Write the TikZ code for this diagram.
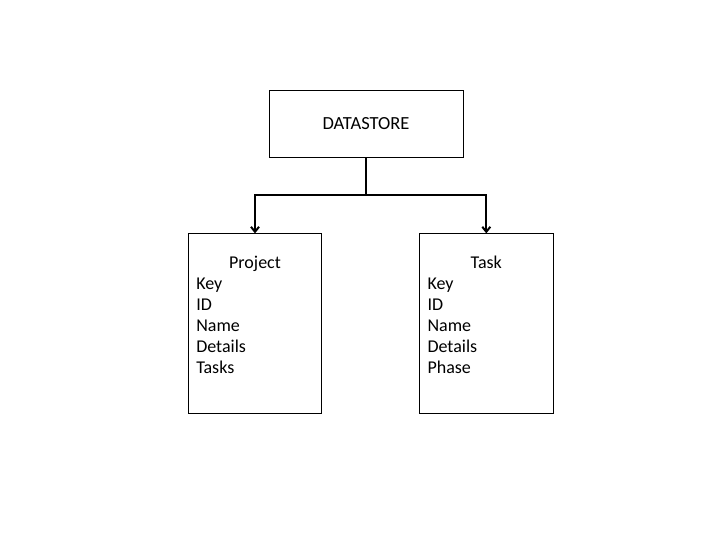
\documentclass[tikz,border=0pt]{standalone}
\usepackage{fontspec}
\setmainfont{Carlito}
\usetikzlibrary{arrows.meta,positioning,shapes.multipart}

\tikzset{
    entity/.style={
        rectangle split,
        rectangle split parts=2,
        rectangle split draw splits=false,
        draw,
        line width=0.8pt,
        inner xsep=8pt,
        inner ysep=0pt,
        text width=117.5pt,
        align=left,
        font=\fontsize{18}{21}\selectfont
    },
    link/.style={line width=2pt, -{Straight Barb[length=5pt,width=8pt]}}
}

\begin{document}
\begin{tikzpicture}[x=1pt, y=1pt, node distance=76pt]
            \useasboundingbox (0,0) rectangle (720,540);

            \node (1) [
                draw,
                line width=0.8pt,
                minimum width=194pt,
                minimum height=67pt,
                font=\fontsize{18.5}{22}\selectfont
            ] at (366,416.5) {DATASTORE};

            \node (2) [
                entity,
                below=of 1,
                xshift=-111pt
            ]
            {
                \nodepart{one}
                \rule{0pt}{34pt}\hspace*{\fill}Project\hspace*{\fill}\strut
                \nodepart{two}
                \strut Key\\
                ID\\
                Name\\
                Details\\
                Tasks\rule[-39pt]{0pt}{39pt}
            };

            \node (3) [
                entity,
                right=97pt of 2
            ]
            {
                \nodepart{one}
                \rule{0pt}{34pt}\hspace*{\fill}Task\hspace*{\fill}\strut
                \nodepart{two}
                \strut Key\\
                ID\\
                Name\\
                Details\\
                Phase\rule[-39pt]{0pt}{39pt}
            };

            \draw[link] (1.south) -- ++(0,-38) -| (2.north);
            \draw[link] (1.south) -- ++(0,-38) -| (3.north);
        \end{tikzpicture}
\end{document}
